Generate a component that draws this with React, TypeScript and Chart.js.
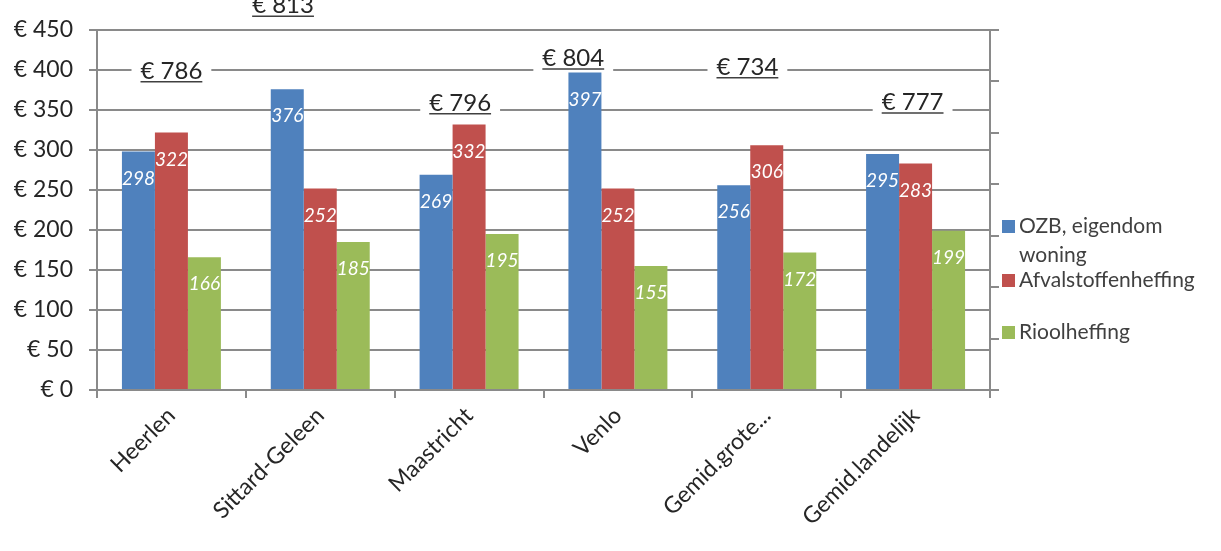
import { useEffect, useRef } from "react";
import { Chart, registerables } from "chart.js";

Chart.register(...registerables);

const categories = ["Heerlen", "Sittard-Geleen", "Maastricht", "Venlo", "Gemid.grote...", "Gemid.landelijk"];
const seriesNames = ["OZB, eigendom woning", "Afvalstoffenheffing", "Rioolheffing"];
const ozb = [298, 376, 269, 397, 256, 295];
const afval = [322, 252, 332, 252, 306, 283];
const riool = [166, 185, 195, 155, 172, 199];
const totals = [786, 813, 796, 804, 734, 777];
// where each total's text box sits: category position and value level
const totalAtCategory = [0, 0.75, 1.94, 2.7, 3.87, 4.98];
const totalAtLevel = [399, 481, 359, 415, 404, 360];
const yMax = 450;
const yStep = 50;

const COLORS = ["#4F81BD", "#C0504D", "#9BBB59"];
const GRID = "#8a8a8a";
const FONT = "Lato, 'Open Sans', sans-serif";

const valueLabels = {
  id: "valueLabels",
  afterDatasetsDraw(chart: any) {
    const ctx = chart.ctx;
    ctx.save();
    ctx.font = `italic 19px ${FONT}`;
    ctx.fillStyle = "#ffffff";
    ctx.textAlign = "center";
    ctx.textBaseline = "middle";
    chart.data.datasets.forEach((ds: any, di: number) => {
      const meta = chart.getDatasetMeta(di);
      meta.data.forEach((el: any, i: number) => {
        ctx.fillText(String(ds.data[i]), el.x, el.y + 27);
      });
    });
    ctx.restore();
  },
};

const totalLabels = {
  id: "totalLabels",
  afterDatasetsDraw(chart: any) {
    const ctx = chart.ctx;
    const xs = chart.scales.x;
    const ys = chart.scales.y;
    ctx.save();
    ctx.font = `24px ${FONT}`;
    ctx.textAlign = "center";
    ctx.textBaseline = "middle";
    totals.forEach((t, i) => {
      const txt = "€ " + t;
      const cx = xs.getPixelForValue(totalAtCategory[i]);
      const cy = ys.getPixelForValue(totalAtLevel[i]);
      const w = ctx.measureText(txt).width;
      ctx.fillStyle = "#ffffff";
      ctx.fillRect(cx - w / 2 - 9, cy - 14, w + 18, 28);
      ctx.fillStyle = "#262626";
      ctx.fillText(txt, cx, cy);
      ctx.strokeStyle = "#404040";
      ctx.lineWidth = 1.5;
      ctx.beginPath();
      ctx.moveTo(cx - w / 2, cy + 11);
      ctx.lineTo(cx + w / 2, cy + 11);
      ctx.stroke();
    });
    ctx.restore();
  },
};

const sideLegend = {
  id: "sideLegend",
  afterDraw(chart: any) {
    const ctx = chart.ctx;
    const area = chart.chartArea;
    const x0 = area.right + 12;
    const itemOffsets = [196, 250, 302];
    ctx.save();
    ctx.font = `21px ${FONT}`;
    ctx.textBaseline = "middle";
    ctx.textAlign = "left";
    seriesNames.forEach((name, i) => {
      const y = area.top + itemOffsets[i];
      ctx.fillStyle = COLORS[i];
      ctx.fillRect(x0, y - 6, 13, 13);
      const words = name.split(" ");
      const lines: string[] = [];
      let cur = "";
      words.forEach((w) => {
        const test = cur ? cur + " " + w : w;
        if (ctx.measureText(test).width > 195 && cur) {
          lines.push(cur);
          cur = w;
        } else cur = test;
      });
      if (cur) lines.push(cur);
      ctx.fillStyle = "#404040";
      lines.forEach((ln, li) => ctx.fillText(ln, x0 + 17, y + li * 29));
    });
    ctx.restore();
  },
};

export default function App() {
  const ref = useRef<HTMLCanvasElement | null>(null);
  useEffect(() => {
    if (!ref.current) return;
    const chart = new Chart(ref.current, {
      type: "bar",
      data: {
        labels: categories,
        datasets: [
          { label: seriesNames[0], data: ozb, backgroundColor: COLORS[0] },
          { label: seriesNames[1], data: afval, backgroundColor: COLORS[1] },
          { label: seriesNames[2], data: riool, backgroundColor: COLORS[2] },
        ],
      },
      options: {
        animation: false,
        responsive: false,
        maintainAspectRatio: false,
        events: [],
        layout: { padding: { top: 30, left: 0, right: 0, bottom: 0 } },
        datasets: { bar: { categoryPercentage: 0.665, barPercentage: 1 } },
        plugins: { legend: { display: false }, tooltip: { enabled: false } },
        scales: {
          x: {
            grid: { display: true, drawOnChartArea: false, drawTicks: true, tickLength: 8, color: GRID, lineWidth: 2, offset: true },
            border: { display: true, color: GRID, width: 2 },
            ticks: { maxRotation: 45, minRotation: 45, autoSkip: false, font: { family: FONT, size: 23 }, color: "#262626", padding: 4 },
            afterFit(s: any) { s.height = 161; },
          },
          y: {
            min: 0,
            max: yMax,
            ticks: { stepSize: yStep, callback: (v: any) => "€ " + v, font: { family: FONT, size: 23 }, color: "#262626", padding: 16 },
            grid: { color: GRID, lineWidth: 2, tickLength: 8 },
            border: { display: true, color: GRID, width: 2 },
            afterFit(s: any) { s.width = 97; },
          },
          y2: {
            position: "right",
            min: 0,
            max: 7,
            ticks: { stepSize: 1, display: false },
            grid: { drawOnChartArea: false, drawTicks: true, tickLength: 9, color: GRID, lineWidth: 2 },
            border: { display: true, color: GRID, width: 2 },
            afterFit(s: any) { s.width = 231; },
          },
        },
      } as any,
      plugins: [valueLabels, totalLabels, sideLegend],
    });
    return () => chart.destroy();
  }, []);
  return (
    <div style={{ position: "fixed", left: 0, top: 0, width: 1221, height: 551, background: "#fff" }}>
      <canvas ref={ref} width={1221} height={551} style={{ display: "block", width: 1221, height: 551 }} />
    </div>
  );
}
